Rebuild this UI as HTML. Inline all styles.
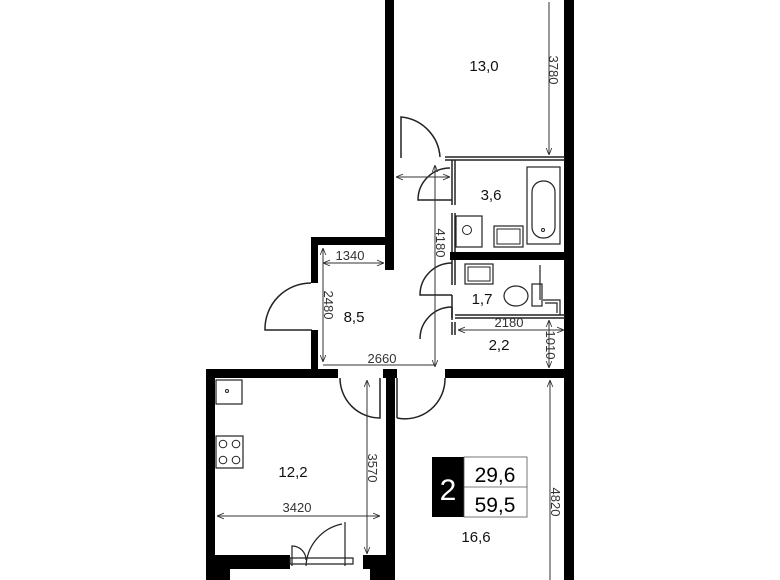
<!DOCTYPE html>
<html><head><meta charset="utf-8"><style>
html,body{margin:0;padding:0;background:#fff;}
svg{display:block;font-family:"Liberation Sans",sans-serif;}
</style></head><body>
<svg width="780" height="580" viewBox="0 0 780 580" xmlns="http://www.w3.org/2000/svg">
<defs>
<marker id="a" viewBox="0 0 10 10" refX="10" refY="5" markerWidth="7" markerHeight="7" orient="auto-start-reverse"><path d="M0,1 L10,5 L0,9" fill="none" stroke="#333" stroke-width="1.2"/></marker>
</defs>
<g fill="#000">
<rect x="385" y="0" width="9" height="270"/>
<rect x="564" y="0" width="10" height="580"/>
<rect x="311" y="237" width="83" height="8"/>
<rect x="311" y="237" width="7" height="46"/>
<rect x="311" y="330" width="7" height="40"/>
<rect x="206" y="369" width="132" height="9"/>
<rect x="383" y="369" width="14" height="9"/>
<rect x="386" y="369" width="9" height="211"/>
<rect x="445" y="369" width="120" height="9"/>
<rect x="206" y="369" width="9" height="211"/>
<rect x="206" y="555" width="84" height="14"/>
<rect x="206" y="555" width="24" height="25"/>
<rect x="363" y="555" width="23" height="14"/>
<rect x="370" y="555" width="16" height="25"/>
<rect x="450" y="252" width="115" height="8"/>
</g>
<g fill="none" stroke="#222" stroke-width="1.5">
<path d="M445,157 H565 M445,160 H565"/>
<path d="M452,160 V205 M455,160 V205 M452,213 V252 M455,213 V252"/>
<path d="M452,260 V285 M455,260 V285 M452,295 V318 M455,318 H565 M455,315 H565"/>
<path d="M452,322 V335 M455,322 V335"/>
<path d="M401,158 V117 A43,43 0 0 1 440,157"/>
<path d="M450,168 A32,32 0 0 0 418,200 H452"/>
<path d="M452,263 A32,32 0 0 0 420,295 H452"/>
<path d="M452,307 A32,32 0 0 0 420,339" />
<path d="M452,307 V320"/>
<path d="M311,283 A46,46 0 0 0 265,330 H312"/>
<path d="M340,378 A40,40 0 0 0 380,418 V378"/>
<path d="M397,418 V378 M397,418 A40,40 0 0 0 445,378"/>
<path d="M342,524 A45,45 0 0 0 306,566 M345,522 V566 M292,566 V546 A14,14 0 0 1 306,560 M290,558 H353 V564 H290 Z" stroke-width="1.2"/>
<rect x="527" y="167" width="33" height="77" stroke-width="1.2"/>
<rect x="532" y="181" width="23" height="57" rx="11" stroke-width="1.2"/>
<circle cx="543" cy="230" r="1.5" stroke-width="1"/>
<rect x="456" y="216" width="26" height="31" stroke-width="1.2"/>
<circle cx="467" cy="230" r="4.5" stroke-width="1"/>
<rect x="494" y="226" width="29" height="21" stroke-width="1.2"/>
<rect x="497" y="229" width="23" height="15" stroke-width="1"/>
<rect x="465" y="264" width="28" height="20" stroke-width="1.2"/>
<rect x="468" y="267" width="22" height="14" stroke-width="1"/>
<ellipse cx="516" cy="296" rx="12" ry="10" stroke-width="1.2"/>
<rect x="532" y="284" width="10" height="22" stroke-width="1.2"/>
<path d="M540,265 V300 M543,300 H560 V315 M545,303 H557 V313" stroke-width="1.2"/>
<rect x="216" y="380" width="26" height="24" stroke-width="1.2"/>
<circle cx="227" cy="391" r="1.5" stroke-width="1"/>
<rect x="216" y="436" width="27" height="32" stroke-width="1.2"/>
<circle cx="223" cy="444" r="3.8" stroke-width="1"/><circle cx="236" cy="444" r="3.8" stroke-width="1"/>
<circle cx="223" cy="460" r="3.8" stroke-width="1"/><circle cx="236" cy="460" r="3.8" stroke-width="1"/>
</g>
<g stroke="#333" stroke-width="1" fill="none" marker-start="url(#a)" marker-end="url(#a)">
<path d="M549,2 V155" marker-start="none"/>
<path d="M396,177 H450"/>
<path d="M435,165 V367"/>
<path d="M323,263 H384"/>
<path d="M323,248 V362"/>
<path d="M323,365 H434" marker-start="none" marker-end="none"/>
<path d="M458,330 H564"/>
<path d="M549,320 V368"/>
<path d="M367,380 V554"/>
<path d="M217,516 H380"/>
<path d="M550,380 V580" marker-end="none"/>
</g>
<g font-size="13" fill="#333" text-anchor="middle">
<text x="350" y="260">1340</text>
<text x="382" y="363">2660</text>
<text x="509" y="327">2180</text>
<text x="297" y="512">3420</text>
<text transform="translate(549,70) rotate(90)">3780</text>
<text transform="translate(436,243) rotate(90)">4180</text>
<text transform="translate(324,305) rotate(90)">2480</text>
<text transform="translate(546,345) rotate(90)">1010</text>
<text transform="translate(368,468) rotate(90)">3570</text>
<text transform="translate(551,502) rotate(90)">4820</text>
</g>
<g font-size="15" fill="#111" text-anchor="middle">
<text x="484" y="71">13,0</text>
<text x="491" y="200">3,6</text>
<text x="354" y="322">8,5</text>
<text x="482" y="304">1,7</text>
<text x="499" y="350">2,2</text>
<text x="293" y="477">12,2</text>
<text x="476" y="542">16,6</text>
</g>
<rect x="432" y="457" width="32" height="60" fill="#000"/>
<rect x="464" y="457" width="63" height="60" fill="#fff" stroke="#555" stroke-width="0.8"/>
<line x1="464" y1="487" x2="527" y2="487" stroke="#555" stroke-width="0.8"/>
<text x="448" y="500" font-size="30" fill="#fff" text-anchor="middle">2</text>
<text x="495" y="482" font-size="21" fill="#000" text-anchor="middle">29,6</text>
<text x="495" y="512" font-size="21" fill="#000" text-anchor="middle">59,5</text>
</svg>
</body></html>
